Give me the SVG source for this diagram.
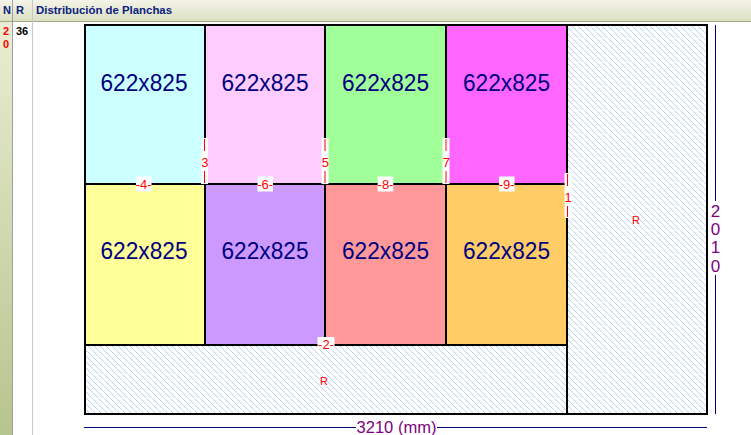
<svg xmlns="http://www.w3.org/2000/svg" width="751" height="435" viewBox="0 0 751 435">
<defs>
  <linearGradient id="hdr" x1="0" y1="0" x2="0" y2="1">
    <stop offset="0" stop-color="#f4f4e8"/>
    <stop offset="1" stop-color="#dadfc0"/>
  </linearGradient>
  <linearGradient id="strip" x1="0" y1="0" x2="0" y2="1">
    <stop offset="0" stop-color="#e9edd2"/>
    <stop offset="1" stop-color="#b6c48e"/>
  </linearGradient>
  <pattern id="hatch" patternUnits="userSpaceOnUse" width="6" height="6">
    <rect width="6" height="6" fill="#ffffff"/>
    <path d="M-1,-1 L7,7 M-1,5 L1,7 M5,-1 L7,1" stroke="#8fc0ee" stroke-width="1" stroke-dasharray="1.2 0.6"/>
  </pattern>
  <style>
    .piece { stroke: #000; stroke-width: 2; }
    .rest { fill: url(#hatch); stroke: #000; stroke-width: 2; }
    .dim { font-family: "Liberation Sans", Arial, sans-serif; fill: #800080; }
    .size { font-family: "Liberation Sans", Arial, sans-serif; font-size: 24px; fill: #000080; text-anchor: middle; }
    .cut { font-family: "Liberation Sans", Arial, sans-serif; font-size: 13px; fill: #ff0000; text-anchor: middle; }
    .box { fill: #ffffff; }
    .tick { stroke: #ff0000; stroke-width: 1; }
    .hd { font-family: "Liberation Sans", Arial, sans-serif; font-size: 11px; font-weight: bold; fill: #0a2080; }
  </style>
</defs>

<!-- header / frame -->
<rect x="0" y="0" width="751" height="22" fill="url(#hdr)"/>
<line x1="0" y1="21.5" x2="751" y2="21.5" stroke="#a2a684" stroke-width="1"/>
<rect x="0" y="22" width="12" height="413" fill="url(#strip)"/>
<line x1="12.5" y1="0" x2="12.5" y2="435" stroke="#a0a0a0" stroke-width="1"/>
<line x1="32.5" y1="0" x2="32.5" y2="435" stroke="#c8c8c8" stroke-width="1"/>
<text class="hd" x="3" y="14">N</text>
<text class="hd" x="16" y="14">R</text>
<text class="hd" x="36" y="14" textLength="136" lengthAdjust="spacingAndGlyphs">Distribución de Planchas</text>
<text class="hd" x="3" y="35" style="fill:#ff0000">2</text>
<text class="hd" x="3" y="47.5" style="fill:#ff0000">0</text>
<text class="hd" x="16" y="35" style="fill:#000000">36</text>

<!-- remnant areas -->
<g id="rest-right">
  <rect class="rest" x="567" y="25" width="140" height="389"/>
  <text class="cut" x="636" y="224" style="font-size:11px">R</text>
</g>
<g id="rest-bottom">
  <rect class="rest" x="85" y="345" width="482" height="69"/>
  <text class="cut" x="324" y="384.5" style="font-size:11px">R</text>
</g>

<!-- pieces -->
<g id="piece1"><rect class="piece" x="85" y="25" width="120" height="159" fill="#ccffff"/><text class="size" x="144" y="91" textLength="87" lengthAdjust="spacingAndGlyphs">622x825</text></g>
<g id="piece2"><rect class="piece" x="205" y="25" width="120" height="159" fill="#ffccff"/><text class="size" x="265" y="91" textLength="87" lengthAdjust="spacingAndGlyphs">622x825</text></g>
<g id="piece3"><rect class="piece" x="325" y="25" width="121" height="159" fill="#a0ff99"/><text class="size" x="385.5" y="91" textLength="87" lengthAdjust="spacingAndGlyphs">622x825</text></g>
<g id="piece4"><rect class="piece" x="446" y="25" width="121" height="159" fill="#ff66ff"/><text class="size" x="506.5" y="91" textLength="87" lengthAdjust="spacingAndGlyphs">622x825</text></g>
<g id="piece5"><rect class="piece" x="85" y="184" width="120" height="161" fill="#ffff99"/><text class="size" x="144" y="259" textLength="87" lengthAdjust="spacingAndGlyphs">622x825</text></g>
<g id="piece6"><rect class="piece" x="205" y="184" width="120" height="161" fill="#cc99ff"/><text class="size" x="265" y="259" textLength="87" lengthAdjust="spacingAndGlyphs">622x825</text></g>
<g id="piece7"><rect class="piece" x="325" y="184" width="121" height="161" fill="#ff9999"/><text class="size" x="385.5" y="259" textLength="87" lengthAdjust="spacingAndGlyphs">622x825</text></g>
<g id="piece8"><rect class="piece" x="446" y="184" width="121" height="161" fill="#ffcc66"/><text class="size" x="506.5" y="259" textLength="87" lengthAdjust="spacingAndGlyphs">622x825</text></g>

<!-- cut labels -->
<g id="cuts">
  <g id="cut1"><rect class="box" x="564.5" y="173" width="7" height="45"/><line class="tick" x1="567.5" y1="174" x2="567.5" y2="186"/><line class="tick" x1="567.5" y1="206" x2="567.5" y2="217"/><text class="cut" x="568" y="201.5">1</text></g>
  <g id="cut2"><rect class="box" x="317.5" y="337" width="17" height="12"/><text class="cut" x="326" y="348.5">-2-</text></g>
  <g id="cut3"><rect class="box" x="201" y="138" width="7" height="46"/><line class="tick" x1="204.5" y1="139" x2="204.5" y2="151"/><line class="tick" x1="204.5" y1="171" x2="204.5" y2="183"/><text class="cut" x="204.8" y="166.5">3</text></g>
  <g id="cut4"><rect class="box" x="136" y="176.5" width="15.5" height="15"/><text class="cut" x="143.7" y="189">-4-</text></g>
  <g id="cut5"><rect class="box" x="321.5" y="138" width="7" height="46"/><line class="tick" x1="325" y1="139" x2="325" y2="151"/><line class="tick" x1="325" y1="171" x2="325" y2="183"/><text class="cut" x="325.3" y="166.5">5</text></g>
  <g id="cut6"><rect class="box" x="257.5" y="176.5" width="15.5" height="15"/><text class="cut" x="265.2" y="189">-6-</text></g>
  <g id="cut7"><rect class="box" x="442.5" y="138" width="7" height="46"/><line class="tick" x1="446" y1="139" x2="446" y2="151"/><line class="tick" x1="446" y1="171" x2="446" y2="183"/><text class="cut" x="446.3" y="166.5">7</text></g>
  <g id="cut8"><rect class="box" x="377.7" y="176.5" width="15.5" height="15"/><text class="cut" x="385.5" y="189">-8-</text></g>
  <g id="cut9"><rect class="box" x="499" y="176.5" width="15.5" height="15"/><text class="cut" x="506.7" y="189">-9-</text></g>
</g>

<!-- dimensions -->
<g id="dimensions">
  <line x1="715.5" y1="25" x2="715.5" y2="201" stroke="#000080" stroke-width="1"/>
  <line x1="715.5" y1="275" x2="715.5" y2="414" stroke="#000080" stroke-width="1"/>
  <text class="dim" x="715.5" y="217" font-size="17" text-anchor="middle">2</text>
  <text class="dim" x="715.5" y="235" font-size="17" text-anchor="middle">0</text>
  <text class="dim" x="715.5" y="253" font-size="17" text-anchor="middle">1</text>
  <text class="dim" x="715.5" y="272" font-size="17" text-anchor="middle">0</text>
  <line x1="84" y1="427.5" x2="356" y2="427.5" stroke="#000080" stroke-width="1"/>
  <line x1="437" y1="427.5" x2="707" y2="427.5" stroke="#000080" stroke-width="1"/>
  <text class="dim" x="396.5" y="432.5" font-size="16" text-anchor="middle" textLength="80" lengthAdjust="spacingAndGlyphs">3210 (mm)</text>
</g>
</svg>
